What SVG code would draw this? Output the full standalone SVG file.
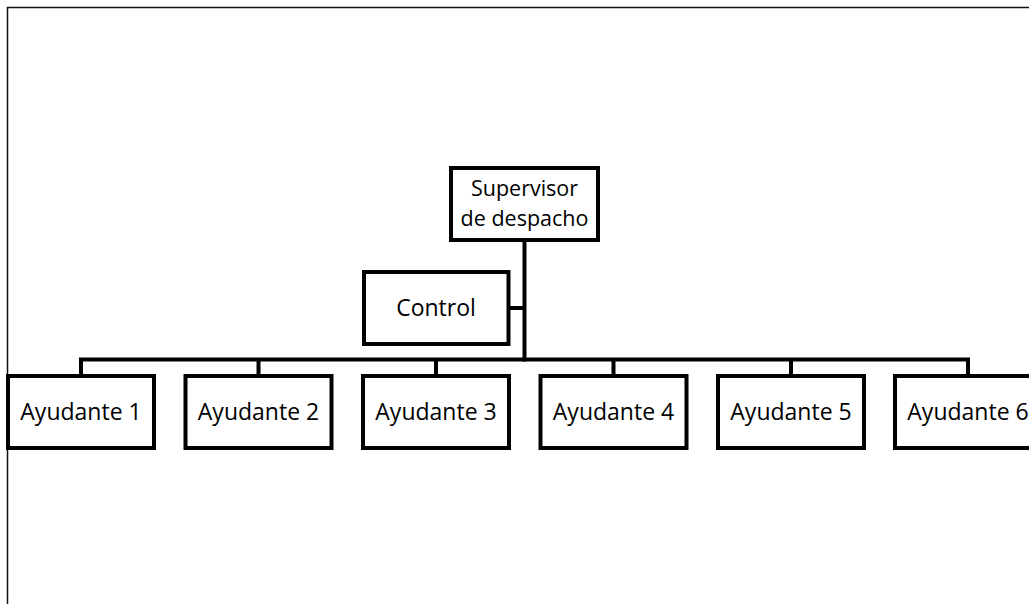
<svg xmlns="http://www.w3.org/2000/svg" width="1029" height="604" viewBox="0 0 1029 604">
  <style>
    .box { fill: #ffffff; stroke: #000000; stroke-width: 4; }
    .wire { fill: none; stroke: #000000; stroke-width: 4; stroke-linejoin: miter; stroke-linecap: butt; }
    .label { font-family: "Open Sans", "Noto Sans", sans-serif; font-size: 23px; fill: #000000; text-anchor: middle; }
    .label.two-line { font-size: 21.5px; }
  </style>
  <rect width="1029" height="604" fill="#ffffff"/>
  <!-- page frame -->
  <path d="M7.5 610 V7.5 H1035" fill="none" stroke="#111111" stroke-width="1.5"/>

  <g id="connectors">
    <path class="wire" d="M524.5 240 V361.5"/>
    <path class="wire" d="M508.5 308 H524.5"/>
    <path class="wire" d="M81 376 V359.5 H968 V376"/>
    <path class="wire" d="M258.5 359.5 V376"/>
    <path class="wire" d="M436 359.5 V376"/>
    <path class="wire" d="M613.5 359.5 V376"/>
    <path class="wire" d="M791 359.5 V376"/>
  </g>

  <g id="supervisor">
    <rect class="box" x="451" y="168" width="147" height="72"/>
    <text class="label two-line" x="524.5" y="196">Supervisor</text>
    <text class="label two-line" x="524.5" y="225.5">de despacho</text>
  </g>

  <g id="control">
    <rect class="box" x="364" y="272" width="144.5" height="72"/>
    <text class="label" x="436" y="316">Control</text>
  </g>

  <g id="ayudante1">
    <rect class="box" x="8" y="376" width="146" height="72"/>
    <text class="label" x="81" y="420">Ayudante 1</text>
  </g>
  <g id="ayudante2">
    <rect class="box" x="185.5" y="376" width="146" height="72"/>
    <text class="label" x="258.5" y="420">Ayudante 2</text>
  </g>
  <g id="ayudante3">
    <rect class="box" x="363" y="376" width="146" height="72"/>
    <text class="label" x="436" y="420">Ayudante 3</text>
  </g>
  <g id="ayudante4">
    <rect class="box" x="540.5" y="376" width="146" height="72"/>
    <text class="label" x="613.5" y="420">Ayudante 4</text>
  </g>
  <g id="ayudante5">
    <rect class="box" x="718" y="376" width="146" height="72"/>
    <text class="label" x="791" y="420">Ayudante 5</text>
  </g>
  <g id="ayudante6">
    <rect class="box" x="895" y="376" width="146" height="72"/>
    <text class="label" x="968" y="420">Ayudante 6</text>
  </g>
</svg>
